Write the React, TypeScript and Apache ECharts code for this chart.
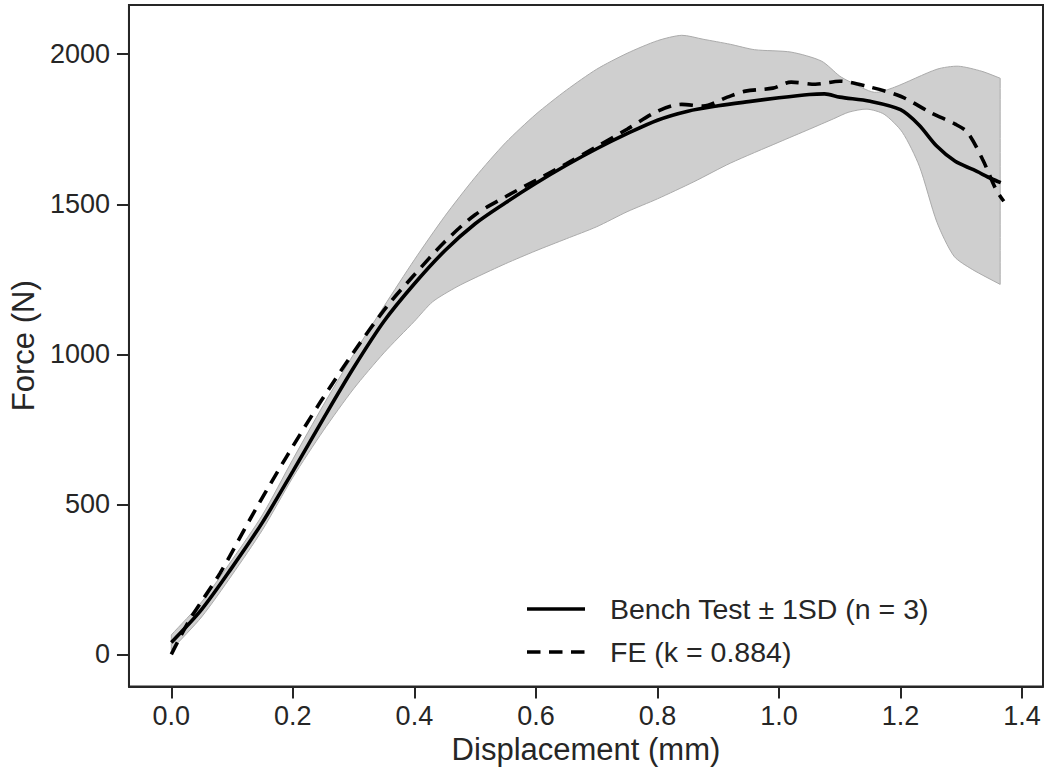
import React, { useEffect, useRef } from "react";
import * as echarts from "echarts";

// Bench test mean curve
const benchX = [0.0, 0.05, 0.10, 0.15, 0.20, 0.25, 0.30, 0.35, 0.40, 0.45, 0.50, 0.55, 0.60, 0.65, 0.70, 0.75, 0.80, 0.85, 0.90, 0.95, 1.00, 1.05, 1.075, 1.10, 1.15, 1.20, 1.23, 1.26, 1.29, 1.32, 1.35, 1.365];
const benchForce = [40, 150, 290, 440, 610, 785, 955, 1110, 1235, 1345, 1435, 1505, 1570, 1630, 1685, 1735, 1780, 1810, 1828, 1842, 1855, 1866, 1868, 1857, 1843, 1815, 1765, 1693, 1643, 1615, 1585, 1572];

// FE curve
const feX = [0.0, 0.03, 0.08, 0.135, 0.19, 0.245, 0.30, 0.355, 0.40, 0.45, 0.50, 0.55, 0.60, 0.65, 0.70, 0.75, 0.80, 0.84, 0.875, 0.915, 0.945, 0.99, 1.02, 1.06, 1.10, 1.145, 1.20, 1.25, 1.29, 1.31, 1.335, 1.357, 1.37];
const feForce = [0, 115, 270, 470, 660, 840, 1007, 1160, 1265, 1375, 1465, 1525, 1580, 1635, 1692, 1750, 1810, 1833, 1827, 1857, 1877, 1887, 1907, 1900, 1910, 1893, 1860, 1805, 1767, 1740, 1650, 1550, 1510];

// +1SD band edge
const upperX = [0.0, 0.05, 0.10, 0.15, 0.20, 0.25, 0.30, 0.35, 0.40, 0.45, 0.50, 0.55, 0.60, 0.65, 0.70, 0.75, 0.80, 0.84, 0.875, 0.92, 0.96, 1.02, 1.07, 1.10, 1.115, 1.157, 1.19, 1.26, 1.295, 1.334, 1.364];
const upperForce = [65, 175, 315, 465, 650, 830, 1000, 1160, 1315, 1460, 1590, 1705, 1800, 1880, 1950, 2003, 2045, 2063, 2050, 2033, 2015, 2007, 1977, 1927, 1910, 1873, 1890, 1950, 1960, 1943, 1920];

// -1SD band edge
const lowerX = [0.0, 0.05, 0.10, 0.15, 0.20, 0.25, 0.30, 0.35, 0.40, 0.43, 0.47, 0.50, 0.55, 0.60, 0.65, 0.70, 0.75, 0.80, 0.86, 0.92, 1.00, 1.05, 1.09, 1.115, 1.145, 1.173, 1.203, 1.231, 1.26, 1.288, 1.318, 1.364];
const lowerForce = [15, 125, 265, 415, 590, 745, 885, 1005, 1110, 1175, 1225, 1255, 1302, 1345, 1385, 1425, 1475, 1518, 1575, 1637, 1707, 1750, 1785, 1807, 1817, 1800, 1740, 1627, 1440, 1327, 1283, 1233];

const xTicks = [0, 0.2, 0.4, 0.6, 0.8, 1.0, 1.2, 1.4];
const yTicks = [0, 500, 1000, 1500, 2000];

const benchName = "Bench Test ± 1SD (n = 3)";
const feName = "FE (k = 0.884)";

const FONT = '"Liberation Sans", Arial, sans-serif';
const INK = "#262626";
const DASH = [13.5, 8.5];

export default function App() {
  const ref = useRef<HTMLDivElement>(null);

  useEffect(() => {
    if (!ref.current) return;
    const chart = echarts.init(ref.current, null, { renderer: "svg" });
    const option: any = {
      animation: false,
      backgroundColor: "#ffffff",
      textStyle: { fontFamily: FONT },
      grid: {
        left: 128,
        right: 4,
        top: 5,
        bottom: 84.5,
        show: true,
        borderColor: INK,
        borderWidth: 2,
        backgroundColor: "transparent",
      },
      graphic: [
        {
          type: "line",
          shape: { x1: 527, y1: 609, x2: 585, y2: 609 },
          style: { stroke: "#000", lineWidth: 3.6 },
          z: 100,
        },
        {
          type: "text",
          x: 610,
          y: 609,
          style: { text: benchName, font: `28.5px ${FONT}`, fill: INK, verticalAlign: "middle", align: "left" },
          z: 100,
        },
        {
          type: "line",
          shape: { x1: 527, y1: 652, x2: 585, y2: 652 },
          style: { stroke: "#000", lineWidth: 3.6, lineDash: DASH },
          z: 100,
        },
        {
          type: "text",
          x: 610,
          y: 652,
          style: { text: feName, font: `28.5px ${FONT}`, fill: INK, verticalAlign: "middle", align: "left" },
          z: 100,
        },
      ],
      xAxis: {
        type: "value",
        min: -0.0697,
        max: 1.4345,
        name: "Displacement (mm)",
        nameLocation: "middle",
        nameGap: 43,
        nameTextStyle: { fontFamily: FONT, fontSize: 31, color: INK },
        axisLine: { show: true, onZero: false, lineStyle: { color: INK, width: 2 } },
        axisTick: {
          show: true,
          length: 12,
          lineStyle: { color: INK, width: 2 },
          customValues: xTicks,
        },
        axisLabel: {
          show: true,
          fontFamily: FONT,
          fontSize: 27,
          color: INK,
          margin: 16,
          customValues: xTicks,
          formatter: (v: number) => v.toFixed(1),
        },
        splitLine: { show: false },
      },
      yAxis: {
        type: "value",
        min: -107,
        max: 2164,
        name: "Force (N)",
        nameLocation: "middle",
        nameGap: 86,
        nameTextStyle: { fontFamily: FONT, fontSize: 31, color: INK },
        axisLine: { show: true, onZero: false, lineStyle: { color: INK, width: 2 } },
        axisTick: {
          show: true,
          length: 12,
          lineStyle: { color: INK, width: 2 },
          customValues: yTicks,
        },
        axisLabel: {
          show: true,
          fontFamily: FONT,
          fontSize: 27,
          color: INK,
          margin: 19,
          customValues: yTicks,
          formatter: (v: number) => String(Math.round(v)),
        },
        splitLine: { show: false },
      },
      series: [
        {
          type: "custom",
          name: "band",
          silent: true,
          clip: false,
          z: 1,
          data: [[upperX[0], upperForce[0]]],
          encode: { x: 0, y: 1 },
          renderItem: (params: any, api: any) => {
            if (params.dataIndex !== 0) return null;
            const top: number[][] = upperX.map((x, i) => api.coord([x, upperForce[i]]));
            const bot: number[][] = lowerX.map((x, i) => api.coord([x, lowerForce[i]])).reverse();
            // duplicate the corner points so the smoothing keeps the band's ends straight
            const pts = [top[0], ...top, top[top.length - 1], bot[0], ...bot, bot[bot.length - 1]];
            return {
              type: "polygon",
              shape: { points: pts, smooth: 0.25 },
              style: { fill: "#cfcfcf", stroke: "#ababab", lineWidth: 1 },
            };
          },
        },
        {
          type: "line",
          name: benchName,
          z: 3,
          showSymbol: false,
          symbol: "none",
          smooth: 0.3,
          data: benchX.map((x, i) => [x, benchForce[i]]),
          lineStyle: { color: "#000000", width: 3.6, type: "solid" },
          itemStyle: { color: "#000000" },
        },
        {
          type: "line",
          name: feName,
          z: 4,
          showSymbol: false,
          symbol: "none",
          smooth: 0.3,
          data: feX.map((x, i) => [x, feForce[i]]),
          lineStyle: { color: "#000000", width: 3.6, type: DASH },
          itemStyle: { color: "#000000" },
        },
      ],
    };
    chart.setOption(option);
    return () => chart.dispose();
  }, []);

  return (
    <div
      ref={ref}
      style={{ position: "absolute", left: 0, top: 0, width: 1047, height: 771, background: "#fff" }}
    />
  );
}
